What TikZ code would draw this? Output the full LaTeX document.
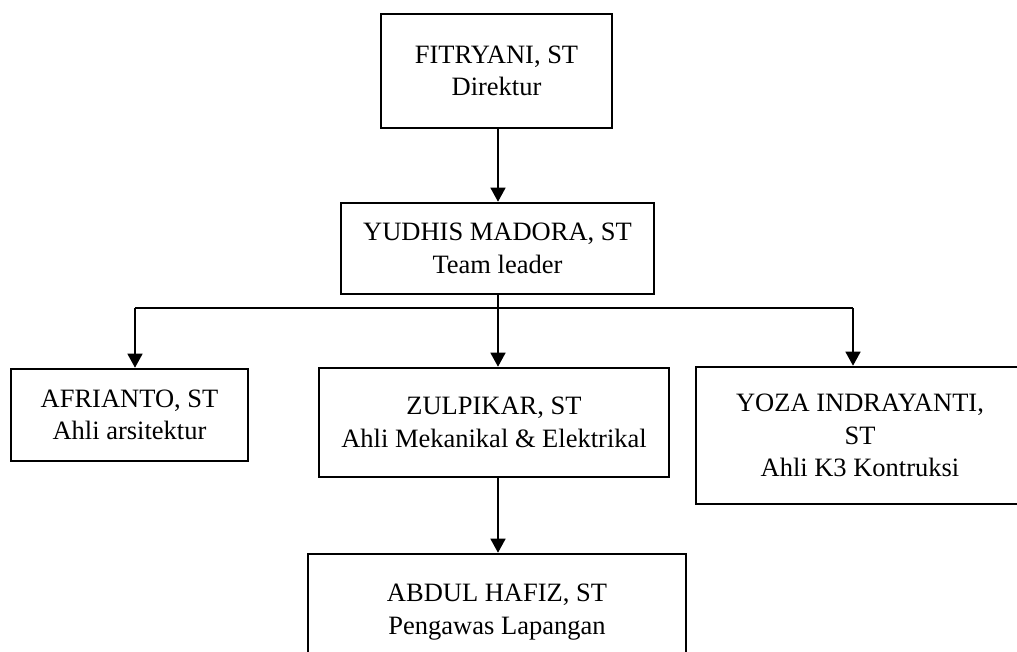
\documentclass[tikz,border=0pt]{standalone}
\usepackage{fontspec}
\setmainfont{Liberation Serif}
\usetikzlibrary{arrows.meta}
\begin{document}
\begin{tikzpicture}[x=1pt,y=-1pt,
  box/.style={draw=black, line width=2.6pt, align=center, inner sep=0pt,
    font=\fontsize{26.5}{32.5}\selectfont},
  conn/.style={draw=black, line width=1.4pt},
  arr/.style={conn, -{Triangle[length=14pt,width=15pt]}}]
\useasboundingbox (0,0) rectangle (1017,651);
\clip (0,0) rectangle (1017,651);
\node[box, minimum width=231pt, minimum height=114pt] (b1) at (496.5,71) {FITRYANI, ST\\Direktur};
\node[box, minimum width=313pt, minimum height=91pt] (b2) at (497.5,248.5) {YUDHIS MADORA, ST\\Team leader};
\node[box, minimum width=237pt, minimum height=92pt] (b3) at (129.5,415) {AFRIANTO, ST\\Ahli arsitektur};
\node[box, minimum width=350pt, minimum height=109pt] (b4) at (494,422.5) {ZULPIKAR, ST\\Ahli Mekanikal \& Elektrikal};
\node[box, minimum width=328pt, minimum height=137pt] (b5) at (860,435.5) {YOZA INDRAYANTI,\\ST\\Ahli K3 Kontruksi};
\node[box, minimum width=378pt, minimum height=116pt] (b6) at (497,612) {ABDUL HAFIZ, ST\\Pengawas Lapangan};
\coordinate (spine) at (498,308);
\coordinate (jL) at (135,308);
\coordinate (jR) at (853,308);
\draw[arr] (b1.south -| spine) -- (b2.north -| spine);
\draw[conn] (b2.south -| spine) -- (spine);
\draw[conn] (jL) -- (jR);
\draw[arr] (jL) -- (jL |- b3.north);
\draw[arr] (spine) -- (spine |- b4.north);
\draw[arr] (jR) -- (jR |- b5.north);
\draw[arr] (b4.south -| spine) -- (b6.north -| spine);
\end{tikzpicture}
\end{document}
